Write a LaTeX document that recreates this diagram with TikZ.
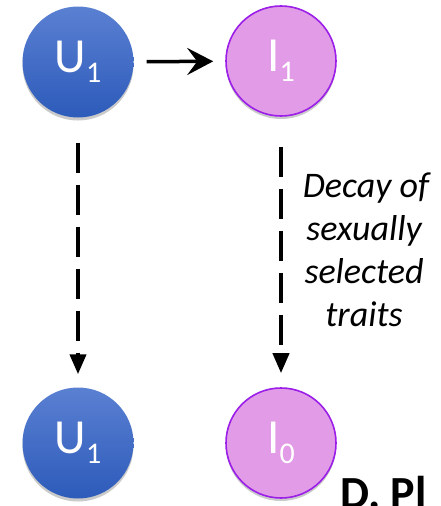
\documentclass[tikz,border=0pt]{standalone}
\usepackage{fontspec}
\setmainfont{Carlito}
\usetikzlibrary{arrows.meta,shadows}
\definecolor{ublueT}{HTML}{5A80D2}
\definecolor{ublueB}{HTML}{2D5BBA}
\definecolor{ipink}{HTML}{E29BE6}
\definecolor{ipurple}{HTML}{9B1FE8}
\tikzset{
  ucirc/.style={circle, minimum size=111pt, inner sep=0pt, top color=ublueT, bottom color=ublueB, draw=none,
    drop shadow={shadow xshift=0pt, shadow yshift=-3pt, opacity=0.35, fill=black!60}},
  icirc/.style={circle, minimum size=110pt, inner sep=0pt, fill=ipink, draw=ipurple, line width=1.6pt,
    drop shadow={shadow xshift=0pt, shadow yshift=-3pt, opacity=0.35, fill=black!60}},
  lbl/.style={text=white, font=\fontsize{49}{49}\selectfont},
  solidarrow/.style={line width=3.5pt, -{Stealth[length=26pt, width=27pt, inset=10pt]}},
  dasharrow/.style={line width=4pt, dash pattern=on 30pt off 12pt, -{Triangle[length=20pt, width=16pt]}},
  note/.style={font=\fontsize{36}{43}\selectfont\itshape, anchor=base, inner sep=0pt},
}
\newcommand{\sublbl}[2]{#1\raisebox{-10pt}{\fontsize{30}{30}\selectfont #2}}
\begin{document}
\begin{tikzpicture}[x=1pt, y=-1pt]
  \clip (0,0) rectangle (441,506);
  \useasboundingbox (0,0) rectangle (441,506);
  \node[ucirc] (u1) at (78,62) {};
  \node[lbl] at (u1) {\sublbl{U}{1}};
  \node[icirc] (i1) at (281,61) {};
  \node[lbl] at (i1) {\sublbl{I}{1}};
  \node[ucirc] (u1b) at (78,443) {};
  \node[lbl] at (u1b) {\sublbl{U}{1}};
  \node[icirc] (i0) at (281,443) {};
  \node[lbl] at (i0) {\sublbl{I}{0}};
  \draw[solidarrow, shorten <=13pt, shorten >=12pt] (u1) -- (i1);
  \draw[dasharrow, shorten <=25pt, shorten >=13pt] (u1) -- (u1b);
  \draw[dasharrow, shorten <=30pt, shorten >=14pt] (i1) -- (i0);
  \node[note] (n1) at (366,197) {Decay of};
  \node[note] (n2) at (364,240) {sexually};
  \node[note] (n3) at (364,283) {selected};
  \node[note] (n4) at (364,326) {traits};
  \node[font=\fontsize{46}{46}\selectfont\bfseries, anchor=base west, inner sep=0pt] (d) at (340,508) {D. Pl};
\end{tikzpicture}
\end{document}
